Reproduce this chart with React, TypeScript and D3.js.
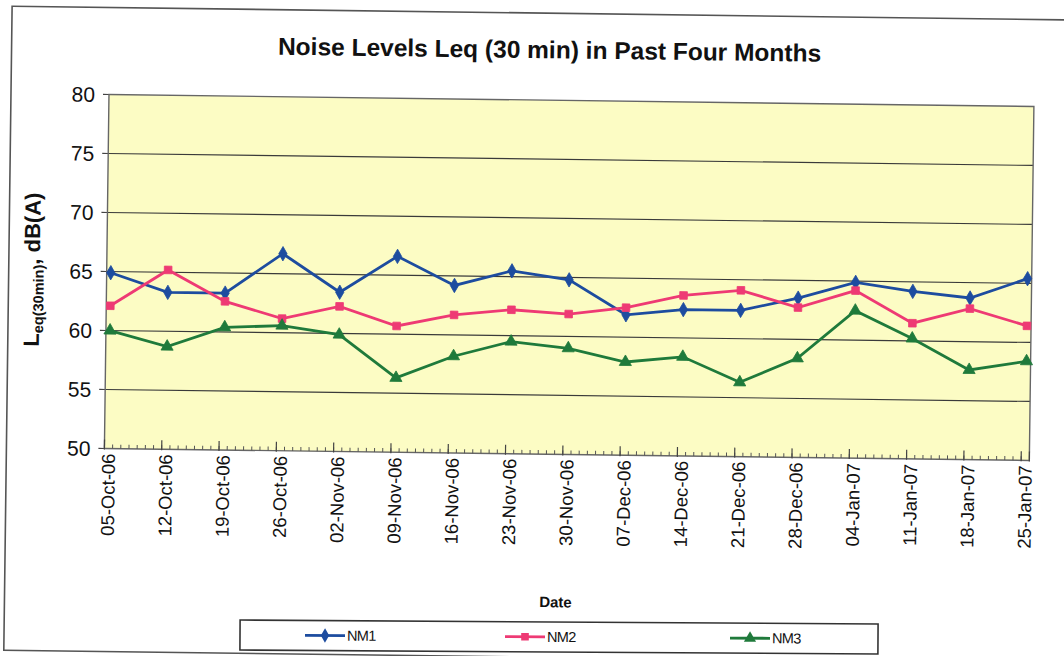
import React from "react";
import * as d3 from "d3";

const dates: string[] = [
  "2006-10-05", "2006-10-12", "2006-10-19", "2006-10-26", "2006-11-02", "2006-11-09",
  "2006-11-16", "2006-11-23", "2006-11-30", "2006-12-07", "2006-12-14", "2006-12-21",
  "2006-12-28", "2007-01-04", "2007-01-11", "2007-01-18", "2007-01-25",
];
const nm1: number[] = [64.9, 63.3, 63.3, 66.7, 63.5, 66.6, 64.2, 65.5, 64.8, 61.9, 62.4, 62.4, 63.5, 64.9, 64.2, 63.7, 65.4];
const nm2: number[] = [62.1, 65.2, 62.6, 61.2, 62.3, 60.7, 61.7, 62.2, 61.9, 62.5, 63.6, 64.1, 62.7, 64.2, 61.5, 62.8, 61.4];
const nm3: number[] = [60.0, 58.7, 60.4, 60.6, 59.9, 56.3, 58.2, 59.5, 59.0, 57.9, 58.4, 56.3, 58.4, 62.5, 60.2, 57.6, 58.4];
const yTicks: number[] = [50, 55, 60, 65, 70, 75, 80];
const seriesNames: string[] = ["NM1", "NM2", "NM3"];

const W = 1064, H = 656;
const plot = { left: 106, right: 1031, top: 100, bottom: 454 };
const parse = d3.utcParse("%Y-%m-%d");
const fmt = d3.utcFormat("%d-%b-%y");
const DAY = 86400000;

export default function App() {
  const d0 = parse(dates[0])!;
  const d1 = new Date(parse(dates[dates.length - 1])!.getTime() + DAY);
  const x = d3.scaleUtc().domain([d0, d1]).range([plot.left, plot.right]);
  const y = d3.scaleLinear().domain([50, 80]).range([plot.bottom, plot.top]);
  const px = (s: string) => x(new Date(parse(s)!.getTime() + DAY / 2));

  const series = [
    { name: seriesNames[0], vals: nm1, color: "#1D4C9F", sym: d3.symbolDiamond, size: 60 },
    { name: seriesNames[1], vals: nm2, color: "#EE3A74", sym: d3.symbolSquare, size: 58 },
    { name: seriesNames[2], vals: nm3, color: "#1F7A3B", sym: d3.symbolTriangle, size: 64 },
  ];
  const line = d3.line<number>().x((_, i) => px(dates[i])).y((v) => y(v));
  const days = d3.utcDay.range(d0, d1);
  const weeks = dates.map((s) => parse(s)!);
  const font = "'Liberation Sans', Arial, sans-serif";
  const legendX = [305, 505, 730];

  return (
    <svg width={W} height={H} style={{ position: "absolute", left: 0, top: 0, background: "#fff" }}>
      <rect x={0} y={0} width={W} height={H} fill="#fff" />
      <g transform="rotate(0.74, 532, 328)">
        <rect x={8} y={13} width={1080} height={644} fill="none" stroke="#555" strokeWidth={1.6} />
        <text x={546} y={58} textAnchor="middle" fontFamily={font} fontWeight="bold" fontSize={24.5} fill="#111">
          Noise Levels Leq (30 min) in Past Four Months
        </text>
        <rect x={plot.left} y={plot.top} width={plot.right - plot.left} height={plot.bottom - plot.top} fill="#FCFCC4" />
        {yTicks.map((t) => (
          <g key={t}>
            {t > 50 && t < 80 && (
              <line x1={plot.left} x2={plot.right} y1={y(t)} y2={y(t)} stroke="#3a3a3a" strokeWidth={1.2} />
            )}
            <line x1={plot.left - 6} x2={plot.left} y1={y(t)} y2={y(t)} stroke="#444" strokeWidth={1.2} />
            <text x={92} y={y(t) + 7.5} textAnchor="end" fontFamily={font} fontSize={21} fill="#111">{t}</text>
          </g>
        ))}
        <rect x={plot.left} y={plot.top} width={plot.right - plot.left} height={plot.bottom - plot.top} fill="none" stroke="#666" strokeWidth={1.4} />
        {days.map((d, i) => (
          <line key={i} x1={x(d)} x2={x(d)} y1={plot.bottom - 4} y2={plot.bottom} stroke="#555" strokeWidth={1} />
        ))}
        {weeks.map((d, i) => (
          <line key={i} x1={x(d)} x2={x(d)} y1={plot.bottom - 9} y2={plot.bottom + 1} stroke="#444" strokeWidth={1.2} />
        ))}
        <line x1={plot.right} x2={plot.right} y1={plot.bottom - 9} y2={plot.bottom + 1} stroke="#444" strokeWidth={1.2} />
        {dates.map((s) => (
          <text key={s} transform={`translate(${px(s) + 6.5},${plot.bottom + 5}) rotate(-90)`} textAnchor="end"
            fontFamily={font} fontSize={18.5} fill="#111">{fmt(parse(s)!)}</text>
        ))}
        {series.map((s) => (
          <g key={s.name}>
            <path d={line(s.vals) || ""} fill="none" stroke={s.color} strokeWidth={2.8} />
            {s.vals.map((v, i) => (
              <path key={i} transform={`translate(${px(dates[i])},${y(v)})`} d={d3.symbol(s.sym, s.size)() || ""} fill={s.color} stroke={s.color} strokeWidth={0.8} />
            ))}
          </g>
        ))}
        <text transform="translate(39,276) rotate(-90)" textAnchor="middle" fontFamily={font} fontWeight="bold" fontSize={22} fill="#111">
          L<tspan fontSize={14.5} dy={4}>eq(30min)</tspan><tspan dy={-4}>, dB(A)</tspan>
        </text>
        <text x={559} y={607} textAnchor="middle" fontFamily={font} fontWeight="bold" fontSize={15} fill="#111">Date</text>
      </g>
      <g transform="rotate(0.35, 559, 637)">
        <rect x={240} y={622} width={638} height={30} fill="#fff" stroke="#333" strokeWidth={1.6} />
        {series.map((s, i) => (
          <g key={s.name}>
            <line x1={legendX[i]} x2={legendX[i] + 40} y1={637} y2={637} stroke={s.color} strokeWidth={2.8} />
            <path transform={`translate(${legendX[i] + 20},637)`} d={d3.symbol(s.sym, s.size)() || ""} fill={s.color} />
            <text x={legendX[i] + 42} y={642} fontFamily={font} fontSize={14.5} letterSpacing={-0.6} fill="#111">{s.name}</text>
          </g>
        ))}
      </g>
    </svg>
  );
}
